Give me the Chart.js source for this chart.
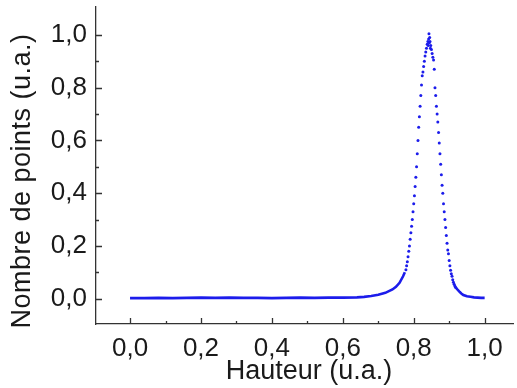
<!DOCTYPE html>
<html><head><meta charset="utf-8">
<script src="https://cdn.jsdelivr.net/npm/chart.js@4"></script>
<style>html,body{margin:0;padding:0;background:#fff;}#wrap{width:517px;height:388px;}</style>
</head><body><div id="wrap"><canvas id="c" width="517" height="388"></canvas></div>
<script>
// Baseline (left of peak)
const baseLeftX = [0.00,0.04,0.08,0.12,0.16,0.20,0.24,0.28,0.32,0.36,0.40,0.44,0.48,0.52,0.56,0.60,0.64,0.66,0.68,0.70,0.72,0.74,0.75,0.76,0.77,0.775];
const baseLeftY = [0.002,0.002,0.003,0.002,0.003,0.004,0.003,0.004,0.003,0.003,0.002,0.003,0.004,0.003,0.004,0.004,0.005,0.007,0.010,0.015,0.022,0.035,0.045,0.060,0.085,0.100];
// Peak points
const peakX = [0.778,0.780,0.782,0.784,0.786,0.788,0.790,0.792,0.794,0.796,0.798,0.800,0.802,0.804,0.806,0.808,0.810,0.812,0.814,0.816,0.818,0.820,0.822,0.824,0.826,0.828,0.830,0.832,0.834,0.836,0.838,0.840,0.841,0.842,0.843,0.844,0.845,0.846,0.847,0.848,0.850,0.852,0.854,0.856,0.858,0.860,0.862,0.864,0.866,0.868,0.870,0.872,0.874,0.876,0.878,0.880,0.882,0.884,0.886,0.888,0.890,0.892,0.894,0.896,0.898,0.900,0.902,0.904,0.906,0.908,0.910,0.912,0.914,0.916,0.918];
const peakY = [0.110,0.125,0.140,0.159,0.180,0.200,0.225,0.250,0.275,0.300,0.330,0.360,0.390,0.425,0.460,0.500,0.550,0.600,0.650,0.690,0.730,0.770,0.810,0.845,0.860,0.880,0.900,0.920,0.935,0.950,0.965,0.975,0.960,0.985,1.005,0.970,0.990,0.975,0.950,0.960,0.945,0.930,0.915,0.905,0.870,0.800,0.770,0.730,0.700,0.670,0.630,0.590,0.550,0.510,0.470,0.430,0.400,0.360,0.330,0.300,0.270,0.240,0.210,0.185,0.170,0.145,0.125,0.108,0.095,0.085,0.072,0.062,0.055,0.048,0.043];
// Baseline (right of peak)
const baseRightX = [0.918,0.920,0.925,0.930,0.935,0.940,0.950,0.960,0.970,0.980,0.990,1.000];
const baseRightY = [0.043,0.040,0.032,0.025,0.019,0.014,0.009,0.007,0.005,0.004,0.003,0.003];
// Tick labels
const xTicks = [0.0,0.2,0.4,0.6,0.8,1.0];
const yTicks = [0.0,0.2,0.4,0.6,0.8,1.0];
const xMinor = [0.1,0.3,0.5,0.7,0.9];
const yMinor = [0.1,0.3,0.5,0.7,0.9];
const xTitle = 'Hauteur (u.a.)';
const yTitle = 'Nombre de points (u.a.)';

const zip = (xs, ys) => xs.map((x, i) => ({x, y: ys[i]}));
const blue = 'rgb(28,28,235)';
const fmt = v => v.toFixed(1).replace('.', ',');
const FONT = '"Liberation Sans", Arial, sans-serif';

const tickPlugin = {
  id: 'inticks',
  afterDraw(chart) {
    const ctx = chart.ctx, xs = chart.scales.x, ys = chart.scales.y;
    const bottom = chart.chartArea.bottom, left = chart.chartArea.left;
    ctx.save();
    ctx.strokeStyle = '#333'; ctx.lineWidth = 1.3;
    ctx.beginPath();
    xTicks.forEach(v => { const p = Math.round(xs.getPixelForValue(v)) + 0.5; ctx.moveTo(p, bottom); ctx.lineTo(p, bottom - 6); });
    xMinor.forEach(v => { const p = Math.round(xs.getPixelForValue(v)) + 0.5; ctx.moveTo(p, bottom); ctx.lineTo(p, bottom - 3); });
    yTicks.forEach(v => { const p = Math.round(ys.getPixelForValue(v)) + 0.5; ctx.moveTo(left, p); ctx.lineTo(left + 6, p); });
    yMinor.forEach(v => { const p = Math.round(ys.getPixelForValue(v)) + 0.5; ctx.moveTo(left, p); ctx.lineTo(left + 3, p); });
    ctx.stroke();
    // titles
    ctx.fillStyle = '#1a1a1a';
    ctx.font = '27px ' + FONT;
    ctx.textAlign = 'center'; ctx.textBaseline = 'middle';
    if ('letterSpacing' in ctx) ctx.letterSpacing = '0px';
    ctx.fillText(xTitle, 309, 372);
    if ('letterSpacing' in ctx) ctx.letterSpacing = '0.5px';
    ctx.translate(23, 181);
    ctx.rotate(-Math.PI / 2);
    ctx.fillText(yTitle, 0, 0);
    ctx.restore();
  }
};

new Chart(document.getElementById('c'), {
  type: 'scatter',
  data: {
    datasets: [
      { data: zip(baseLeftX, baseLeftY), showLine: true, borderColor: blue, borderWidth: 2.6, pointRadius: 0, tension: 0 },
      { data: zip(peakX, peakY), showLine: false, backgroundColor: blue, borderColor: blue, pointRadius: 1.5, borderWidth: 0 },
      { data: zip(baseRightX, baseRightY), showLine: true, borderColor: blue, borderWidth: 2.6, pointRadius: 0, tension: 0 }
    ]
  },
  options: {
    responsive: false,
    animation: false,
    layout: { padding: { top: 7, right: 0, left: 0, bottom: 0 } },
    plugins: { legend: { display: false }, tooltip: { enabled: false } },
    scales: {
      x: {
        type: 'linear', min: -0.096, max: 1.08,
        afterBuildTicks: s => { s.ticks = xTicks.map(v => ({ value: v })); },
        afterFit: s => { s.height = 64; s.paddingLeft = 0; s.paddingRight = 0; },
        grid: { display: false, drawTicks: false },
        border: { display: true, color: '#333', width: 1.3 },
        ticks: { callback: v => fmt(v), color: '#1a1a1a', font: { family: FONT, size: 26 }, padding: 9, maxRotation: 0, autoSkip: false }
      },
      y: {
        type: 'linear', min: -0.096, max: 1.106,
        afterBuildTicks: s => { s.ticks = yTicks.map(v => ({ value: v })); },
        afterFit: s => { s.width = 96; s.paddingTop = 0; s.paddingBottom = 0; },
        grid: { display: false, drawTicks: false },
        border: { display: true, color: '#333', width: 1.3 },
        ticks: { callback: v => fmt(v), color: '#1a1a1a', font: { family: FONT, size: 26 }, padding: 9, autoSkip: false }
      }
    }
  },
  plugins: [tickPlugin]
});
</script></body></html>
